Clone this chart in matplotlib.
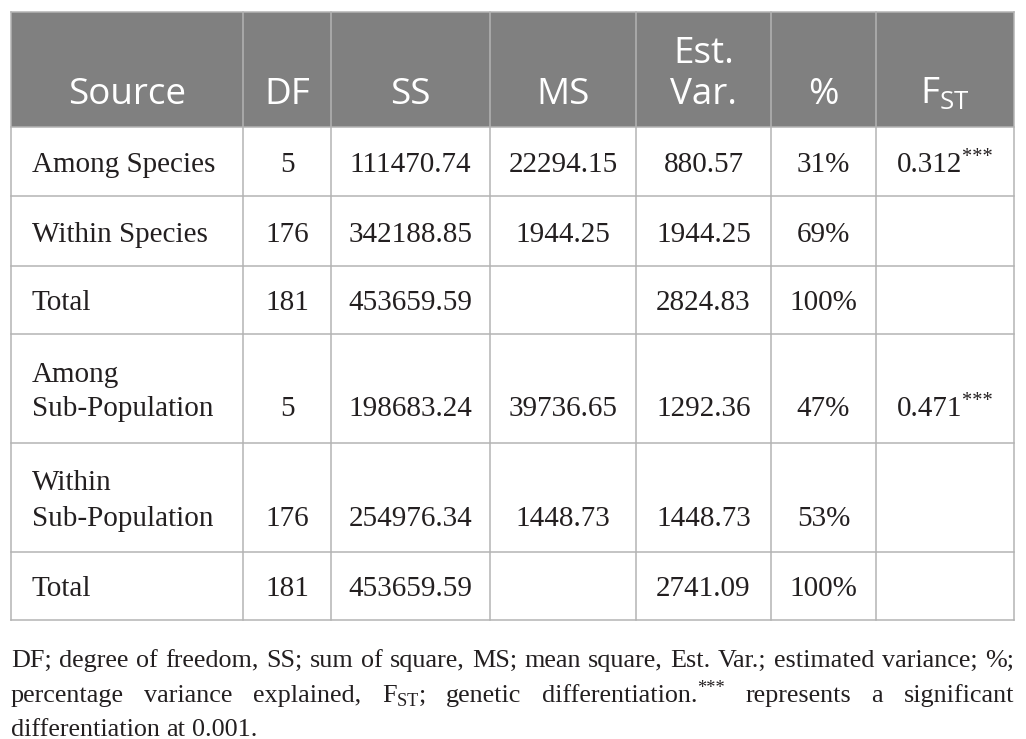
import matplotlib
matplotlib.use("Agg")
import matplotlib.pyplot as plt
from matplotlib.patches import Rectangle

# table content
header = ["Source", "DF", "SS", "MS", "Est.\nVar.", "%", r"F$_{\mathregular{ST}}$"]
sources = ["Among Species", "Within Species", "Total",
           "Among\nSub-Population", "Within\nSub-Population", "Total"]
df_values = ["5", "176", "181", "5", "176", "181"]
ss_values = ["111470.74", "342188.85", "453659.59",
             "198683.24", "254976.34", "453659.59"]
ms_values = ["22294.15", "1944.25", "", "39736.65", "1448.73", ""]
est_var = ["880.57", "1944.25", "2824.83", "1292.36", "1448.73", "2741.09"]
pct_values = ["31%", "69%", "100%", "47%", "53%", "100%"]
fst_values = ["0.312***", "", "", "0.471***", "", ""]

footnote = [
    "DF; degree of freedom, SS; sum of square, MS; mean square, "
    "Est. Var.; estimated variance; %;",
    r"percentage variance explained, F$_{\mathregular{ST}}$; genetic "
    "differentiation.*** represents a significant",
    "differentiation at 0.001.",
]

# layout in pixels
W, H = 1026, 739
col_edges = [11, 243, 331, 490, 636, 771, 876, 1014]
row_edges = [12, 127, 196, 266, 334, 443, 552, 620]
HEAD_BG = "#808080"
GRID = "#b4b4b4"
INK = "#231f20"
SERIF = "Liberation Serif"
SANS = "Open Sans"
BODY_SIZE = 21

fig = plt.figure(figsize=(W / 100, H / 100), dpi=100)
ax = fig.add_axes([0, 0, 1, 1])
ax.set_xlim(0, W)
ax.set_ylim(H, 0)
ax.axis("off")
renderer = fig.canvas.get_renderer()


def make_word(word, size):
    """Text objects for one word; trailing *** becomes a superscript."""
    if word.endswith("***"):
        parts = [(word[:-3], size, 0.0), ("***", size * 0.7, -size * 0.5)]
    else:
        parts = [(word, size, 0.0)]
    objs = []
    for s, fs, dy in parts:
        t = ax.text(0, 0, s, ha="left", va="baseline", color=INK,
                    family=SERIF, fontsize=fs, zorder=3)
        objs.append((t, dy))
    return objs


def word_width(objs):
    return sum(t.get_window_extent(renderer).width for t, _ in objs)


def place_word(objs, x, y):
    for t, dy in objs:
        t.set_position((x, y + dy))
        x += t.get_window_extent(renderer).width


# header background
ax.add_patch(Rectangle((col_edges[0], row_edges[0]),
                       col_edges[-1] - col_edges[0], row_edges[1] - row_edges[0],
                       facecolor=HEAD_BG, edgecolor="none", zorder=0))

# grid
for y in row_edges:
    ax.plot([col_edges[0], col_edges[-1]], [y, y], color=GRID, lw=1.1, zorder=1)
for x in col_edges:
    ax.plot([x, x], [row_edges[0], row_edges[-1]], color=GRID, lw=1.1, zorder=1)

# header text, bottom aligned
for j, label in enumerate(header):
    xc = (col_edges[j] + col_edges[j + 1]) / 2
    lines = label.split("\n")
    for k, line in enumerate(lines):
        yb = 104 - (len(lines) - 1 - k) * 41
        ax.text(xc, yb, line, ha="center", va="baseline", color="white",
                family=SANS, fontsize=26.5, zorder=3)

# body
body_cols = [sources, df_values, ss_values, ms_values, est_var, pct_values, fst_values]
LINE = 35
for i in range(len(sources)):
    yc = (row_edges[i + 1] + row_edges[i + 2]) / 2
    nlines = len(sources[i].split("\n"))
    first = yc - (nlines - 1) * LINE / 2 + 10.5
    last = first + (nlines - 1) * LINE
    for j, col in enumerate(body_cols):
        text = col[i]
        if not text:
            continue
        if j == 0:
            for k, line in enumerate(text.split("\n")):
                ax.text(32, first + k * LINE, line, ha="left", va="baseline",
                        color=INK, family=SERIF, fontsize=BODY_SIZE, zorder=3)
        else:
            xc = (col_edges[j] + col_edges[j + 1]) / 2
            objs = make_word(text, BODY_SIZE)
            place_word(objs, xc - word_width(objs) / 2, last)

# footnote, justified like the source
left, right = col_edges[0], col_edges[-1]
baselines = [667, 702, 736]
fsize = 15.0
words_v = [line.split(" ") for line in footnote]
objs_v = [[make_word(w, fsize) for w in words] for words in words_v]

# scale the font so the first line just fits with normal spacing
w0 = [word_width(o) for o in objs_v[0]]
natural = sum(w0) + 0.25 * fsize * 100 / 72 * (len(w0) - 1)
scale = (right - left) / natural * 0.995
fsize *= scale
for row in objs_v:
    for objs in row:
        for t, _ in objs:
            t.set_fontsize(t.get_fontsize() * scale)
        for n, (t, dy) in enumerate(objs):
            objs[n] = (t, dy * scale)

space = 0.25 * fsize * 100 / 72
for k, row in enumerate(objs_v):
    ws = [word_width(o) for o in row]
    if k < len(objs_v) - 1:
        gap = (right - left - sum(ws)) / (len(ws) - 1)
    else:
        gap = space
    x = left
    for objs, w in zip(row, ws):
        place_word(objs, x, baselines[k])
        x += w + gap

fig.savefig("out.png", dpi=100, facecolor="white")
